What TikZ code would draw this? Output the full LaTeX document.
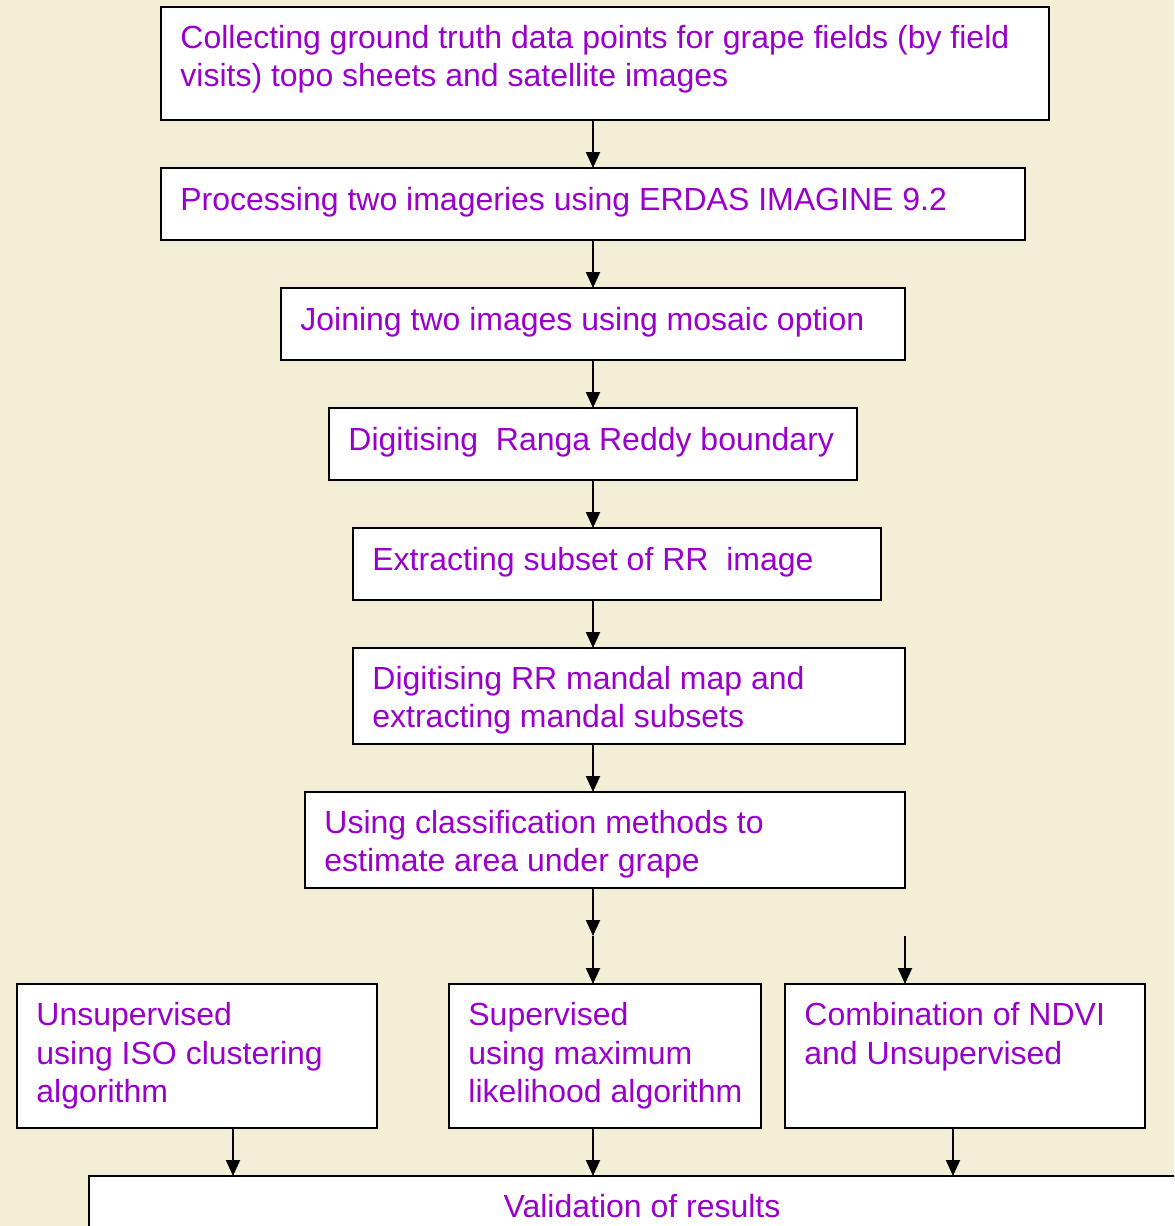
\documentclass[tikz,border=0pt]{standalone}
\usepackage{fontspec}
\setmainfont{Liberation Sans}
\usepackage{tikz}
\usetikzlibrary{arrows.meta,positioning}
\definecolor{cream}{HTML}{F3EFD7}
\definecolor{stepviolet}{HTML}{9900CC}

\begin{document}
\begin{tikzpicture}[x=0.5pt, y=-0.5pt,
  box/.style={draw, line width=1pt, fill=white, anchor=north west, inner sep=0pt, outer sep=0pt},
  label txt/.style={anchor=north west, inner sep=0pt, text=stepviolet, align=left,
    font=\fontsize{16pt}{19.2pt}\selectfont, execute at begin node={\rule{0pt}{12pt}}},
  flow/.style={line width=1pt, -{Triangle[length=8pt,width=7pt]}}]
  \fill[cream] (0,0) rectangle (1174,1226);
  \clip (0,0) rectangle (1174,1226);
  \coordinate (spine) at (593,0);
  \coordinate (d8) at (233,0);
  \coordinate (d10) at (953,0);

  \node[box, minimum width=444pt, minimum height=56.5pt] (b1) at (161,7) {};
  \node[box, minimum width=432pt, minimum height=36pt] (b2) at (161,168) {};
  \node[box, minimum width=312pt, minimum height=36pt] (b3) at (281,288) {};
  \node[box, minimum width=264pt, minimum height=36pt] (b4) at (329,408) {};
  \node[box, minimum width=264pt, minimum height=36pt] (b5) at (353,528) {};
  \node[box, minimum width=276pt, minimum height=48pt] (b6) at (353,648) {};
  \node[box, minimum width=300pt, minimum height=48pt] (b7) at (305,792) {};
  \node[box, minimum width=180pt, minimum height=72pt] (b8) at (17,984) {};
  \node[box, minimum width=156pt, minimum height=72pt] (b9) at (449,984) {};
  \node[box, minimum width=180pt, minimum height=72pt] (b10) at (785,984) {};
  \node[box, minimum width=600pt, minimum height=60pt] (b11) at (89,1176) {};

  \node[label txt] (t1) at ([shift={(19,18)}]b1.north west)
    {Collecting ground truth data points for grape fields (by field\\visits) topo sheets and satellite images};
  \node[label txt] (t2) at ([shift={(19,18)}]b2.north west) {Processing two imageries using ERDAS IMAGINE 9.2};
  \node[label txt] (t3) at ([shift={(19,18)}]b3.north west) {Joining two images using mosaic option};
  \node[label txt] (t4) at ([shift={(19,18)}]b4.north west) {Digitising\ \ Ranga Reddy boundary};
  \node[label txt] (t5) at ([shift={(19,18)}]b5.north west) {Extracting subset of RR\ \ image};
  \node[label txt] (t6) at ([shift={(19,18)}]b6.north west) {Digitising RR mandal map and\\extracting mandal subsets};
  \node[label txt] (t7) at ([shift={(19,18)}]b7.north west) {Using classification methods to\\estimate area under grape};
  \node[label txt] (t8) at ([shift={(19,18)}]b8.north west) {Unsupervised\\using ISO clustering\\algorithm};
  \node[label txt] (t9) at ([shift={(19,18)}]b9.north west) {Supervised\\using maximum\\likelihood algorithm};
  \node[label txt] (t10) at ([shift={(19,18)}]b10.north west) {Combination of NDVI\\and Unsupervised};
  \node[label txt, anchor=base] (t11) at (642,1217) {Validation of results};

  \foreach \a/\b in {b1/b2, b2/b3, b3/b4, b4/b5, b5/b6, b6/b7}
    \draw[flow] (\a.south -| spine) -- (\b.north -| spine);
  \coordinate (split) at (593,936);
  \draw[flow] (b7.south -| spine) -- (split);
  \draw[flow] (split) -- (b9.north -| spine);
  \draw[flow] (split -| b7.east) -- (b10.north -| b7.east);
  \draw[flow] (b8.south -| d8) -- (b11.north -| d8);
  \draw[flow] (b9.south -| spine) -- (b11.north -| spine);
  \draw[flow] (b10.south -| d10) -- (b11.north -| d10);
\end{tikzpicture}
\end{document}
